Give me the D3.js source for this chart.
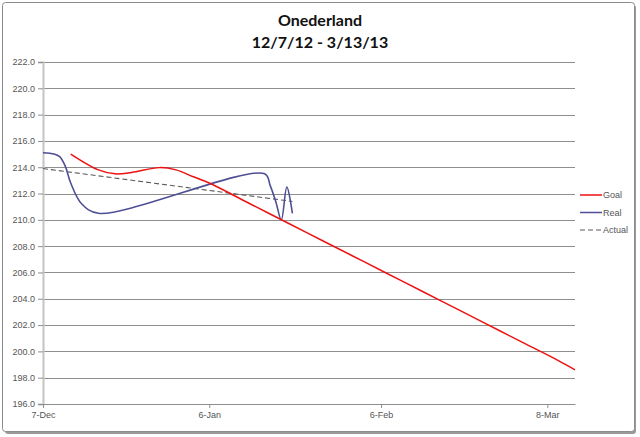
<!DOCTYPE html>
<html><head><meta charset="utf-8">
<script src="https://cdn.jsdelivr.net/npm/d3@7"></script>
<style>
html,body{margin:0;padding:0;background:#fff;}
svg{display:block;}
text{font-family:"Lato","Liberation Sans",sans-serif;}
</style></head>
<body><svg id="c" width="640" height="437"></svg>
<script>
const titleLines = ["Onederland", "12/7/12 - 3/13/13"];
const seriesNames = ["Goal", "Real", "Actual"];
const goalDates = ["2012-12-12","2012-12-17","2012-12-20","2012-12-23","2012-12-28","2012-12-31","2013-01-03","2013-01-06","2013-01-13","2013-01-20","2013-01-27","2013-02-03","2013-02-10","2013-02-17","2013-02-24","2013-03-03","2013-03-10","2013-03-13"];
const goalValues = [215.0,213.8,213.5,213.6,213.97,213.8,213.3,212.8,211.3,209.8,208.3,206.8,205.3,203.8,202.3,200.8,199.3,198.6];
const realDates = ["2012-12-07","2012-12-09","2012-12-10","2012-12-11","2012-12-12","2012-12-14","2012-12-17","2013-01-16","2013-01-17","2013-01-18","2013-01-19","2013-01-20","2013-01-21"];
const realValues = [215.1,215.0,214.8,214.1,212.8,211.2,210.5,213.5,212.6,211.4,210.0,212.5,210.5];
const actualDates = ["2012-12-07","2013-01-21"];
const actualValues = [213.9,211.4];
const yTicks = [196,198,200,202,204,206,208,210,212,214,216,218,220,222];
const xTickDates = ["2012-12-07","2013-01-06","2013-02-06","2013-03-08"];
const xTickLabels = ["7-Dec","6-Jan","6-Feb","8-Mar"];
const xDomain = ["2012-12-07","2013-03-13"];

const P = s => { const [y,m,d] = s.split("-").map(Number); return new Date(Date.UTC(y,m-1,d)); };
const svg = d3.select("#c");

// frame with shadow
svg.append("rect").attr("x",5).attr("y",5).attr("width",631).attr("height",429).attr("rx",3).attr("fill","#9a9a9a");
svg.append("rect").attr("x",2.5).attr("y",2.5).attr("width",632).attr("height",429).attr("rx",3).attr("fill","#fff").attr("stroke","#8c8c8c").attr("stroke-width",1);

const x = d3.scaleUtc().domain(xDomain.map(P)).range([43,575]);
const y = d3.scaleLinear().domain([196,222]).range([404,62]);

// gridlines
svg.append("g").selectAll("line").data(yTicks.slice(1)).join("line")
  .attr("x1",43).attr("x2",575).attr("y1",d=>Math.round(y(d))+0.5).attr("y2",d=>Math.round(y(d))+0.5)
  .attr("stroke","#8e8e8e").attr("stroke-width",1);

// y axis
const yAxis = d3.axisLeft(y).tickValues(yTicks).tickFormat(d3.format(".1f")).tickSize(5).tickPadding(3);
const gy = svg.append("g").attr("transform","translate(43,0)").call(yAxis);
gy.select(".domain").attr("stroke","#c4c4c4").attr("stroke-width",2);
gy.selectAll(".tick line").attr("stroke","#8e8e8e");
gy.selectAll("text").attr("fill","#555").style("font-size","9px").style("font-family","'Liberation Sans',sans-serif");

// x axis
const xAxis = d3.axisBottom(x).tickValues(xTickDates.map(P)).tickFormat((d,i)=>xTickLabels[i]).tickSize(4).tickPadding(4).tickSizeOuter(0);
const gx = svg.append("g").attr("transform","translate(0,404)").call(xAxis);
gx.select(".domain").attr("stroke","#8e8e8e").attr("stroke-width",1);
gx.selectAll(".tick line").attr("stroke","#8e8e8e");
gx.selectAll("text").attr("fill","#555").style("font-size","9px").style("font-family","'Liberation Sans',sans-serif");

const line = d3.line().x(d=>x(d[0])).y(d=>y(d[1])).curve(d3.curveCatmullRom.alpha(0.5));
const lin = d3.line().x(d=>x(d[0])).y(d=>y(d[1]));

const goal = goalDates.map((d,i)=>[P(d),goalValues[i]]);
const real = realDates.map((d,i)=>[P(d),realValues[i]]);
const actual = actualDates.map((d,i)=>[P(d),actualValues[i]]);

svg.append("path").attr("d",lin(actual)).attr("fill","none").attr("stroke","#5a5a5a").attr("stroke-width",1.1).attr("stroke-dasharray","5,3");
svg.append("path").attr("d",line(real)).attr("fill","none").attr("stroke","#4f4f96").attr("stroke-width",1.6);
svg.append("path").attr("d",line(goal)).attr("fill","none").attr("stroke","#ee1111").attr("stroke-width",1.5);

// title
svg.append("g").selectAll("text").data(titleLines).join("text")
  .attr("x",320).attr("y",(d,i)=>26+i*22).attr("text-anchor","middle")
  .style("font-size","16px").style("font-weight","bold").attr("fill","#111").text(d=>d);

// legend
const legColors = ["#ee1111","#4f4f96","#5a5a5a"];
const lg = svg.append("g").selectAll("g").data(seriesNames).join("g")
  .attr("transform",(d,i)=>`translate(580,${195+i*17.5})`);
lg.append("line").attr("x1",0).attr("x2",22).attr("y1",0).attr("y2",0)
  .attr("stroke",(d,i)=>legColors[i]).attr("stroke-width",(d,i)=>i==2?1.1:1.5)
  .attr("stroke-dasharray",(d,i)=>i==2?"5,3":null);
lg.append("text").attr("x",23).attr("y",3).style("font-size","9px").style("font-family","'Liberation Sans',sans-serif").attr("fill","#555").text(d=>d);
</script></body></html>
